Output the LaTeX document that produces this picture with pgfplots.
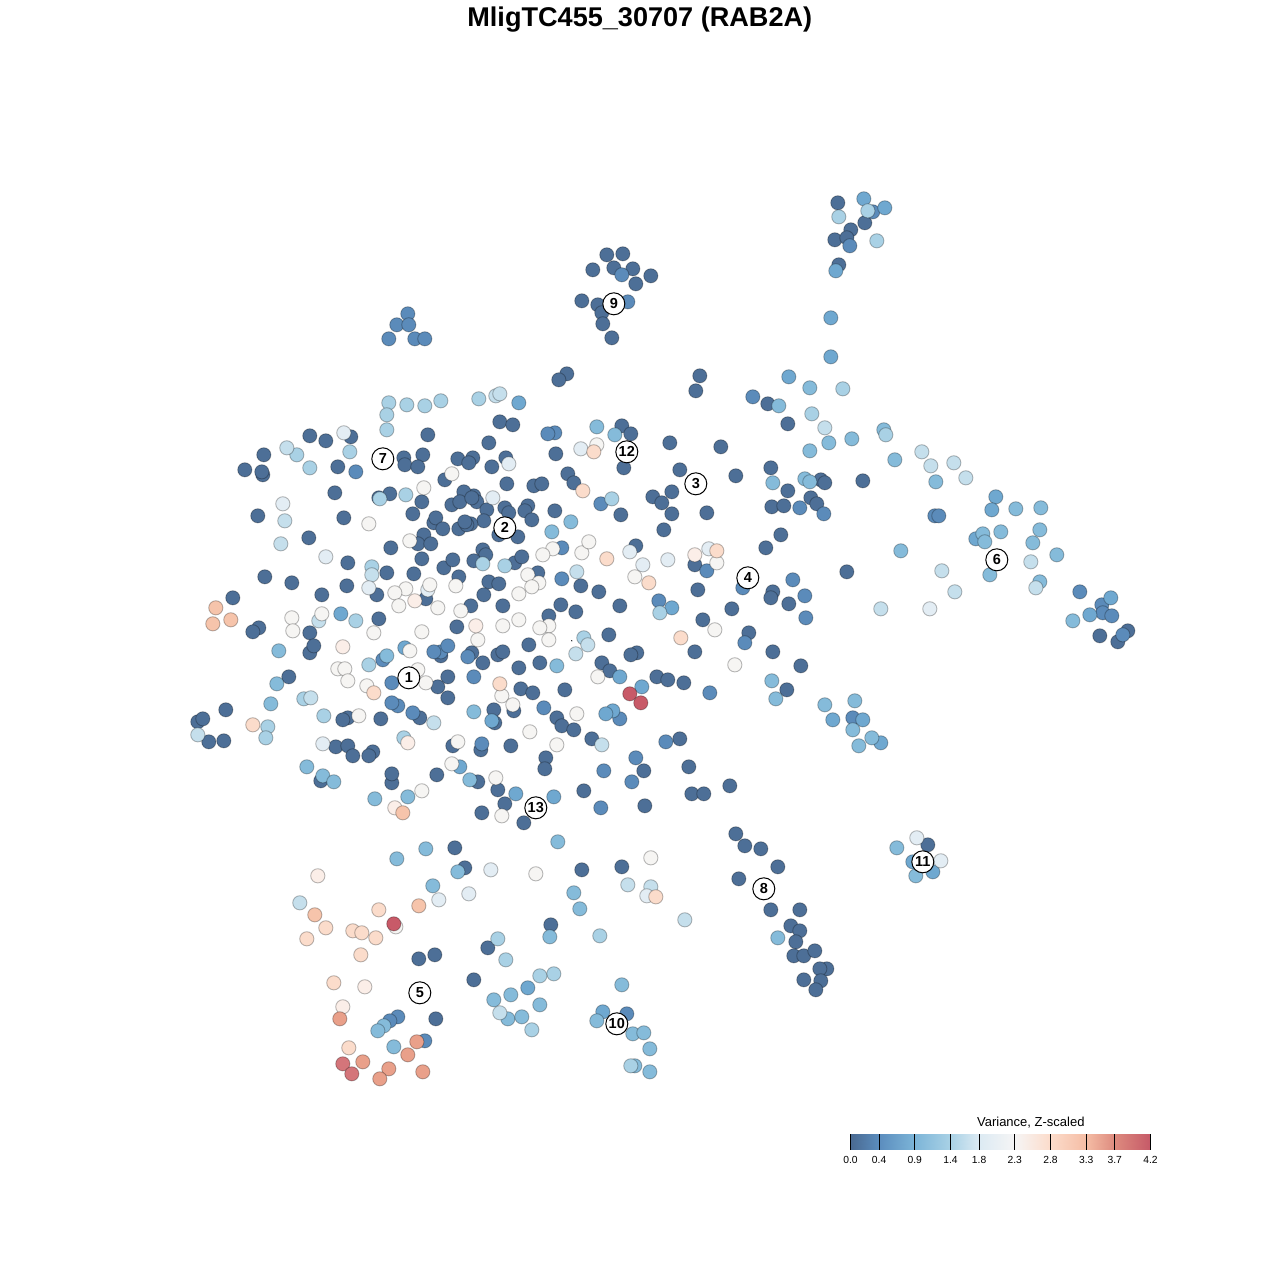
\documentclass[border=0pt]{standalone}
\usepackage{pgfplots}
\usepackage{fontspec}
\setmainfont{Liberation Sans}
\pgfplotsset{compat=1.18}
\definecolor{cd}{HTML}{4D6F97}
\definecolor{cb}{HTML}{5B8BBA}
\definecolor{cm}{HTML}{6FA8D0}
\definecolor{cl}{HTML}{85BBDA}
\definecolor{cp}{HTML}{A9D1E5}
\definecolor{cq}{HTML}{C5DFEC}
\definecolor{ce}{HTML}{E3EDF4}
\definecolor{cw}{HTML}{F6F5F3}
\definecolor{cn}{HTML}{FBEEE8}
\definecolor{co}{HTML}{FBDCCB}
\definecolor{cs}{HTML}{F6C4AB}
\definecolor{ct}{HTML}{E9A08A}
\definecolor{cu}{HTML}{D4757A}
\definecolor{cr}{HTML}{C85A68}
\pgfplotsset{
  pt/.style={only marks,mark=*,mark size=7.1pt,mark options={fill=#1,draw=black,draw opacity=0.27,line width=0.9pt}},
}
\begin{document}
\begin{tikzpicture}[x=1pt,y=1pt]
\path[use as bounding box] (0,0) rectangle (1280,1280);
\begin{axis}[
  at={(0.8pt,-0.8pt)},anchor=south west,
  width=1280pt,height=1280pt,scale only axis,
  xmin=0,xmax=1280,ymin=0,ymax=1280,y dir=reverse,
  hide axis,clip=false]
\addplot[pt=cd] coordinates {(837,202)(864,222)(850,229)(834,239)(846,237)(838,264)
(606,254)(622,253)(592,269)(613,267)(632,268)(650,275)(635,283)(581,300)(597,304)(601,312)(602,323)(611,337)
(566,373)(558,379)(699,375)(695,390)(767,403)(787,423)(820,479)(824,482)(862,480)(770,467)(787,490)(810,497)(771,506)(783,505)(816,503)(780,534)(765,547)(846,571)(1099,635)(1127,630)(1117,641)(772,591)(770,597)(788,603)(731,608)(702,619)(748,632)(772,651)(800,665)(786,689)
(499,421)(512,424)(621,425)(630,433)(488,442)(555,453)(669,442)(720,446)(472,457)(505,457)(491,466)(623,467)(679,469)(735,475)(567,473)(573,482)(533,485)(541,483)(506,483)(473,495)(476,501)(486,509)(483,520)(470,523)(504,507)(508,512)(527,505)(524,510)(531,519)(554,510)(620,514)(652,496)(661,502)(671,491)(671,513)(706,512)(663,529)(498,534)(517,536)(482,549)(485,554)(473,560)(514,562)(521,556)(635,545)(694,564)(537,572)(488,581)(498,583)(483,594)(502,605)(580,585)(598,591)(697,589)(619,605)(560,604)(575,611)(548,615)(470,605)
(528,644)(608,634)(694,651)(636,652)(630,654)(497,654)(502,651)(482,662)(518,667)(539,662)(601,662)(609,670)(520,688)(532,692)(564,689)(656,676)(667,679)(683,682)(493,709)(513,710)(494,722)(556,717)(561,725)(573,729)(591,738)(510,745)(480,749)(679,738)(545,757)(544,768)(643,770)(688,766)(477,781)(729,785)(691,793)(703,793)(497,789)(583,790)(504,803)(481,812)(644,805)(523,822)(735,833)(744,845)(760,848)
(309,435)(325,440)(350,436)(427,434)(263,454)(244,469)(262,474)(261,471)(337,466)(403,457)(404,464)(422,454)(417,466)(457,458)(468,462)(444,479)(334,492)(378,497)(389,493)(421,501)(463,491)(451,504)(459,501)(471,497)(257,515)(343,517)(412,513)(433,522)(435,517)(442,528)(458,528)(466,524)(464,521)(308,537)(423,534)(417,543)(430,543)(390,547)(347,562)(421,558)(443,567)(452,559)(386,572)(413,573)(458,576)(264,576)(291,582)(346,585)(376,594)(321,594)(232,597)(425,598)(378,618)
(258,627)(252,631)(309,632)(309,652)(313,645)(456,626)(440,655)(471,652)(447,676)(288,676)(437,686)(447,697)(419,717)(225,709)(197,721)(202,718)(208,741)(223,740)(347,717)(342,719)(380,718)(335,746)(347,745)(352,755)(372,751)(368,755)(452,745)(320,780)(391,782)(391,773)(436,774)(454,847)
(464,867)(581,869)(621,866)(550,924)(487,947)(434,954)(418,958)(473,979)(435,1018)
(777,866)(738,878)(770,909)(799,909)(790,925)(799,930)(795,941)(793,955)(803,955)(814,950)(826,968)(819,968)(803,979)(820,980)(815,989)(927,844)};
\addplot[pt=cb] coordinates {(872,211)(849,245)(621,274)(627,301)(407,313)(396,324)(408,324)(388,338)(414,338)(424,338)(752,396)(799,507)(823,513)(934,515)(938,515)(1079,591)(1101,604)(1102,612)(1111,615)(1122,634)(792,579)(804,595)(805,617)(744,642)(709,692)(852,717)(554,432)(547,433)(600,503)(561,547)(706,570)(561,578)(742,587)(658,600)(355,471)(665,741)(635,757)(603,770)(631,781)(600,807)(619,718)(543,707)(481,743)(473,676)(440,651)(447,645)(433,651)(467,656)(382,659)(391,682)(397,705)(391,702)(412,712)(626,1013)(397,1016)(389,1020)(424,1040)};
\addplot[pt=cm] coordinates {(863,198)(884,207)(835,270)(830,317)(830,356)(788,376)(995,496)(991,509)(975,538)(1110,597)(1089,614)(518,402)(340,613)(404,647)(491,720)(641,686)(619,676)(612,710)(605,713)(671,607)(515,793)(553,796)(832,719)(862,719)(880,742)(912,861)(932,871)(602,1011)(527,987)(459,766)};
\addplot[pt=cl] coordinates {(809,387)(778,405)(828,442)(851,438)(883,429)(894,459)(809,450)(772,482)(804,478)(809,481)(935,481)(1015,508)(1040,507)(1000,531)(1039,529)(982,533)(984,541)(1032,542)(1056,554)(989,574)(900,550)(1039,581)(1072,620)(771,680)(775,698)(824,704)(854,700)(852,729)(871,737)(858,745)(596,426)(614,434)(570,521)(551,531)(556,665)(473,711)(278,650)(386,655)(276,683)(270,703)(306,766)(322,775)(333,781)(469,779)(374,798)(407,796)(557,841)(396,858)(425,848)(457,871)(432,885)(573,892)(579,908)(549,936)(896,847)(915,875)(777,937)(621,984)(510,994)(493,999)(539,1004)(507,1018)(521,1016)(383,1025)(377,1030)(596,1020)(632,1033)(643,1032)(393,1046)(649,1048)(634,1065)(649,1071)};
\addplot[pt=cp] coordinates {(388,402)(406,404)(424,405)(440,400)(386,414)(386,429)(842,388)(811,413)(885,434)(478,398)(296,454)(349,451)(309,467)(379,498)(405,494)(611,498)(371,566)(482,563)(504,565)(659,612)(355,620)(583,637)(368,664)(303,698)(323,715)(267,726)(265,737)(403,737)(876,240)(867,210)(838,216)(599,935)(497,938)(505,959)(553,973)(539,975)(531,1029)(630,1065)};
\addplot[pt=cq] coordinates {(495,395)(499,393)(824,427)(921,451)(930,465)(953,462)(965,477)(1030,561)(941,570)(1035,587)(954,591)(880,608)(286,447)(284,520)(280,543)(371,574)(318,620)(587,644)(575,653)(576,571)(310,697)(433,722)(197,734)(601,744)(299,902)(684,919)(627,884)(650,886)(499,1012)};
\addplot[pt=ce] coordinates {(929,608)(343,432)(508,463)(492,497)(282,503)(325,556)(368,587)(427,589)(580,448)(629,551)(642,564)(667,559)(708,548)(322,743)(490,869)(468,893)(438,899)(646,895)(916,837)(940,860)};
\addplot[pt=cw] coordinates {(596,444)(451,473)(423,487)(368,523)(409,540)(552,548)(542,554)(581,552)(588,541)(716,562)(527,574)(538,582)(531,586)(518,593)(634,576)(455,585)(429,584)(405,588)(394,592)(398,605)(437,607)(460,610)(291,617)(321,613)(292,630)(373,632)(421,631)(477,639)(518,619)(502,625)(548,625)(539,627)(548,639)(714,629)(597,676)(734,664)(501,695)(512,704)(576,713)(529,731)(556,744)(409,650)(337,668)(344,668)(347,680)(417,669)(425,682)(366,685)(358,715)(457,741)(451,763)(421,790)(495,777)(501,815)(535,873)(650,857)(395,926)};
\addplot[pt=cn] coordinates {(475,625)(342,646)(414,600)(694,554)(407,742)(394,807)(317,875)(364,986)(342,1006)};
\addplot[pt=co] coordinates {(593,451)(582,490)(606,558)(716,550)(648,582)(680,637)(499,683)(373,692)(252,724)(325,927)(352,930)(361,932)(375,937)(306,938)(360,954)(333,982)(348,1047)(655,896)(378,909)};
\addplot[pt=cs] coordinates {(215,607)(230,619)(212,623)(402,812)(418,905)(314,914)};
\addplot[pt=ct] coordinates {(339,1018)(416,1041)(407,1054)(362,1061)(388,1068)(379,1078)(422,1071)};
\addplot[pt=cu] coordinates {(342,1063)(351,1073)};
\addplot[pt=cr] coordinates {(629,693)(640,702)(393,923)};
\addplot[only marks,mark=*,mark size=11pt,mark options={fill=white,draw=black,line width=1pt},
  point meta=explicit symbolic,nodes near coords,
  every node near coord/.style={anchor=center,font=\fontsize{14.5}{14}\selectfont\bfseries,text=black,inner sep=0pt}]
  table[meta=l] {
x y l
408 677 1
504 527 2
695 483 3
747 577 4
419 992 5
996 559 6
382 458 7
763 888 8
613 303 9
616 1023 10
922 861 11
626 451 12
535 807 13
};
\addplot[only marks,mark=*,mark size=0.4pt,mark options={fill=cd,draw=none}] coordinates {(571,640)};
\node[font=\fontsize{27.1}{27}\selectfont\bfseries,text=black] at (axis cs:639,18.5) {MligTC455\_30707 (RAB2A)};
\node[font=\fontsize{13}{13}\selectfont,text=black] at (axis cs:1030,1121.5) {Variance, Z-scaled};
\end{axis}
\begin{axis}[
  at={(850.5pt,130pt)},anchor=south west,
  width=300pt,height=16pt,scale only axis,
  xmin=0,xmax=4.2,ymin=0,ymax=1,view={0}{90},
  colormap={rb}{rgb255(0cm)=(74,106,146); rgb255(4cm)=(91,141,190); rgb255(9cm)=(125,181,216); rgb255(14cm)=(170,210,230); rgb255(18cm)=(220,234,243); rgb255(23cm)=(246,245,245); rgb255(28cm)=(252,220,203); rgb255(33cm)=(245,189,165); rgb255(37cm)=(221,138,126); rgb255(42cm)=(198,90,104)},
  point meta min=0,point meta max=4.2,
  axis line style={draw=none},
  axis x line*=bottom,
  hide y axis,
  xtick={0,0.4,0.9,1.4,1.8,2.3,2.8,3.3,3.7,4.2},
  xticklabels={0.0,0.4,0.9,1.4,1.8,2.3,2.8,3.3,3.7,4.2},
  xtick align=inside,
  major tick length=16pt,
  tick style={black,line width=1pt},
  xticklabel style={font=\fontsize{10.3}{10}\selectfont,text=black,yshift=-2.5pt},
  /pgf/number format/assume math mode=true,
  axis on top]
\addplot3[surf,shader=interp,mesh/rows=2,point meta=x] coordinates {
(0,0,0)(0.4,0,0)(0.9,0,0)(1.4,0,0)(1.8,0,0)(2.3,0,0)(2.8,0,0)(3.3,0,0)(3.7,0,0)(4.2,0,0)

(0,1,0)(0.4,1,0)(0.9,1,0)(1.4,1,0)(1.8,1,0)(2.3,1,0)(2.8,1,0)(3.3,1,0)(3.7,1,0)(4.2,1,0)
};
\end{axis}
\end{tikzpicture}
\end{document}
